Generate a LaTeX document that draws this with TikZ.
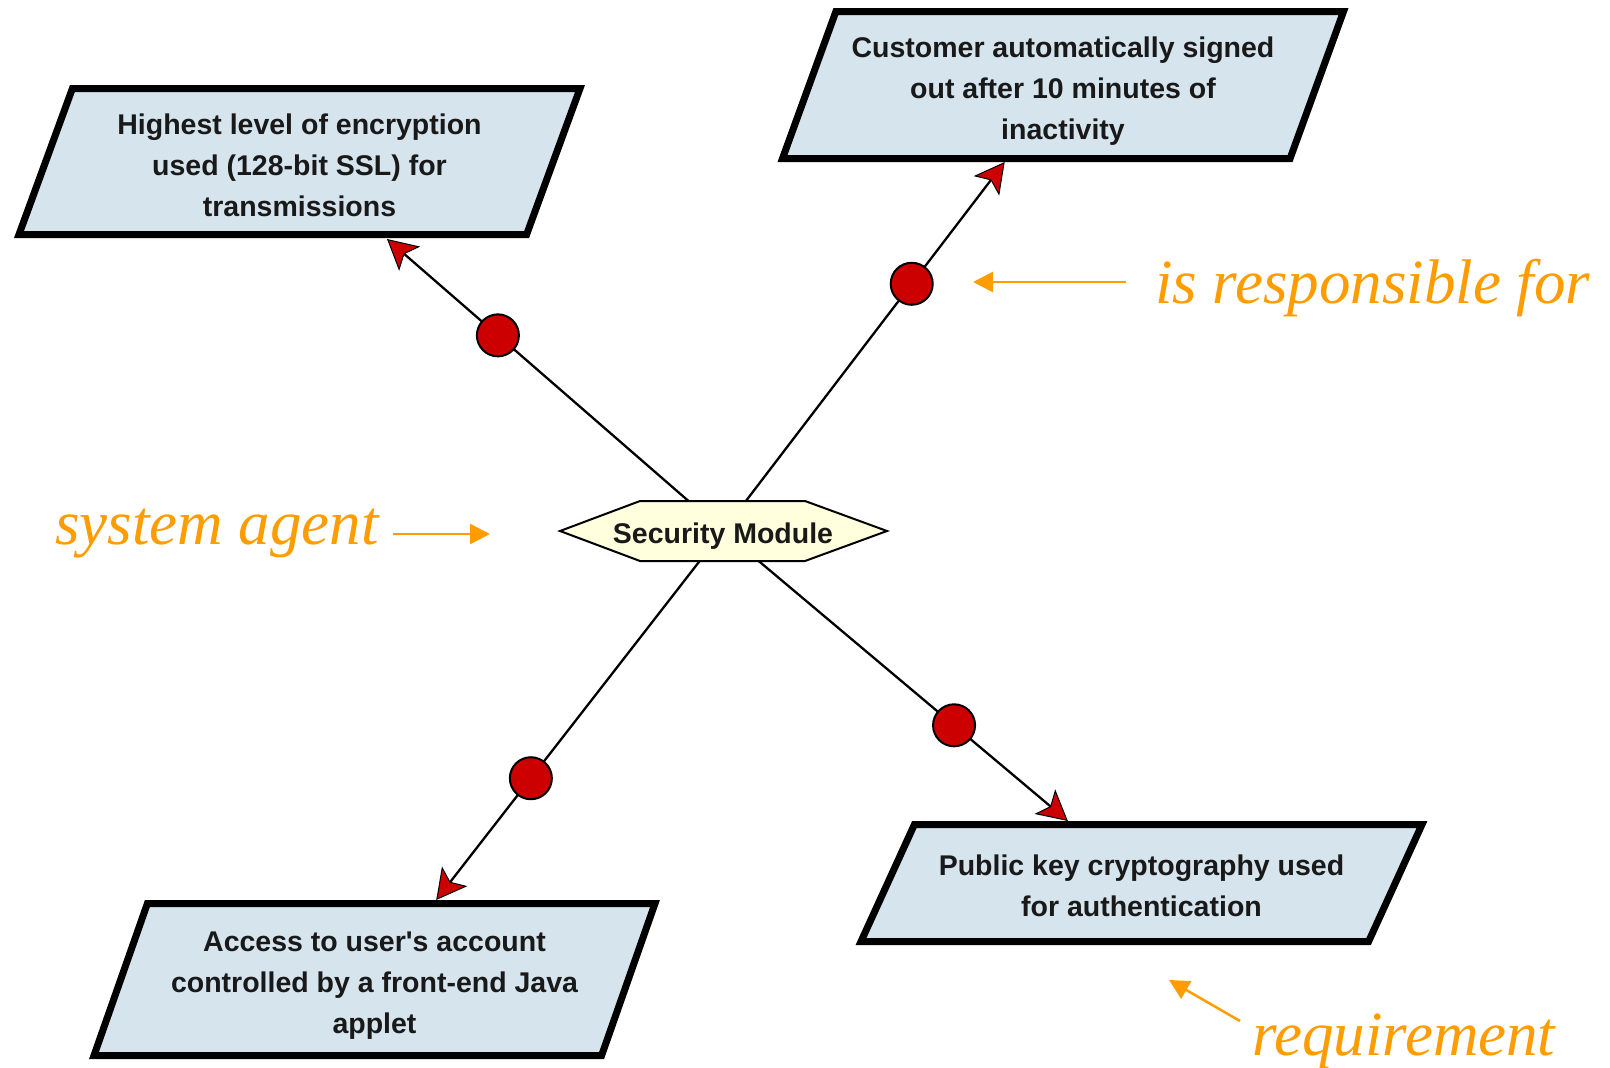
\documentclass[tikz,border=0pt]{standalone}
\usepackage{fontspec}
\setmainfont{Liberation Sans}
\newfontfamily\annfont{Liberation Serif}
\usetikzlibrary{arrows.meta,backgrounds}
\definecolor{boxfill}{HTML}{D6E4EE}
\definecolor{hexfill}{HTML}{FFFFDD}
\definecolor{dotred}{HTML}{CC0000}
\definecolor{annorange}{HTML}{FF9C00}
\newcommand{\topstrut}{\rule{0pt}{34pt}}
\newcommand{\botstrut}{\rule[-8pt]{0pt}{8pt}}
\newcommand{\hexstrut}{\rule[-6pt]{0pt}{36.6pt}}
% parallelogram outline: #1 = centre x, #2 = centre y, #3 = outer half height
\newcommand{\reqframe}[3]{%
  \filldraw[reqline]
    ({#1-257.5+28+2.4},{#2-#3+3.5}) -- ({#1+257.5+28-5},{#2-#3+3.5}) --
    ({#1+257.5-28-2.4},{#2+#3-3.5}) -- ({#1-257.5-28+5},{#2+#3-3.5}) -- cycle;}
\begin{document}
\begin{tikzpicture}[x=1pt,y=-1pt,
  reqline/.style={draw=black, line width=7pt, fill=boxfill, line join=miter},
  reqtext/.style={rectangle, inner sep=0pt, outer sep=0pt, minimum width=420pt,
    font=\bfseries\fontsize{28.5}{41}\selectfont, align=center, text=black!90},
  hexshape/.style={draw=black, line width=2pt, fill=hexfill, line join=miter},
  hexlabel/.style={font=\bfseries\fontsize{28.5}{34}\selectfont, inner sep=0pt, text=black!90},
  conn/.style={draw=black, line width=2.3pt,
    -{Stealth[length=30pt,width=32pt,inset=7pt,fill=dotred,line width=1pt]}},
  dot/.style={circle, draw=black, line width=2pt, fill=dotred, minimum size=42pt, inner sep=0pt},
  ann/.style={draw=annorange, line width=2.5pt, -{Triangle[length=20pt,width=20pt,fill=annorange]}},
  anntext/.style={font=\annfont\itshape\fontsize{63}{70}\selectfont, text=annorange, inner sep=0pt, anchor=base west}
]
\useasboundingbox (0,0) rectangle (1610,1068);

% system agent
\filldraw[hexshape] (560,531) -- (640,501) -- (805,501) -- (887,531) -- (805,561) -- (640,561) -- cycle;
\node[hexlabel] (hex) at (723,531) {\hexstrut Security Module};

% requirements
\reqframe{299.5}{161.5}{76.5}
\node[reqtext, minimum height=153pt] (b1) at (299.5,162.5)
  {\topstrut Highest level of encryption\\used (128-bit SSL) for\\transmissions\botstrut};
\reqframe{1063}{85}{77}
\node[reqtext, minimum height=154pt] (b2) at (1063,85)
  {\topstrut Customer automatically signed\\out after 10 minutes of\\inactivity\botstrut};
\reqframe{1141.5}{883}{62}
\node[reqtext, minimum height=124pt] (b3) at (1141.5,883)
  {\topstrut Public key cryptography used\\for authentication\botstrut};
\reqframe{374.5}{979.5}{79.5}
\node[reqtext, minimum height=159pt] (b4) at (374.5,979.5)
  {\topstrut Access to user\textquotesingle s account\\controlled by a front-end Java\\applet\botstrut};

% responsibility links
\begin{pgfonlayer}{background}
\draw[conn] (hex.center) -- node[dot, pos=0.67] (d1) {} (b1);
\draw[conn] (hex.center) -- node[dot, pos=0.67] (d2) {} (b2);
\draw[conn] (hex.center) -- node[dot, pos=0.67] (d3) {} (b3);
\draw[conn] (hex.center) -- node[dot, pos=0.67] (d4) {} (b4);
\end{pgfonlayer}

% annotations
\node[anntext] (tresp) at (1155,303) {is responsible for};
\node[anntext] (tsys) at (55,544) {system agent};
\node[anntext] (treq) at (1252,1055) {requirement};
\coordinate (resptail) at (1126,282);
\coordinate (resptip) at (973,282);
\coordinate (systail) at (393,534);
\coordinate (systip) at (490,534);
\coordinate (reqtail) at (1240,1021);
\coordinate (reqtip) at (1169,980);
\draw[ann] (resptail) -- (resptip);
\draw[ann] (systail) -- (systip);
\draw[ann] (reqtail) -- (reqtip);
\end{tikzpicture}
\end{document}
